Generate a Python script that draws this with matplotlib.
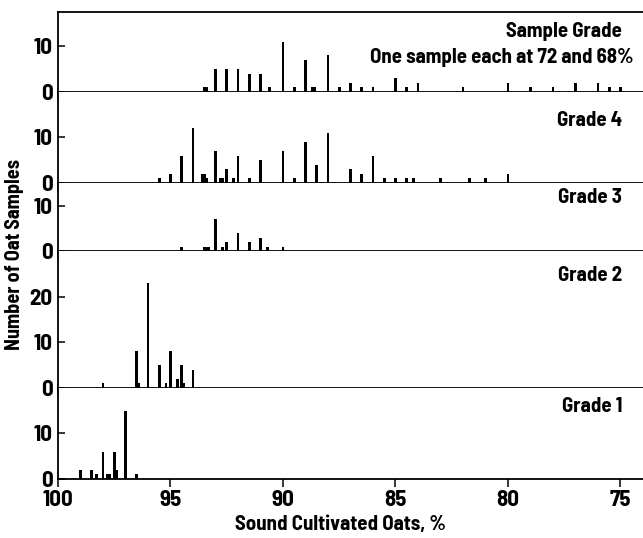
import matplotlib
matplotlib.use("Agg")
import matplotlib.pyplot as plt

plt.rcParams['font.family'] = ['Barlow Semi Condensed', 'DejaVu Sans']
plt.rcParams['font.weight'] = 'bold'

# percent sound cultivated oats -> number of samples, per grade
sample_pct = [93.5, 93.4, 93.0, 92.5, 92.0, 91.5, 91.0, 90.6, 90.0, 89.5, 89.0,
              88.7, 88.6, 88.0, 87.5, 87.0, 86.5, 86.0, 85.0, 84.5, 84.0, 82.0,
              80.0, 79.0, 78.0, 77.0, 76.0, 75.5, 75.0]
sample_n = [1, 1, 5, 5, 5, 4, 4, 1, 11, 1, 7,
            1, 1, 8, 1, 2, 1, 1, 3, 1, 2, 1,
            2, 1, 1, 2, 2, 1, 1]

g4_pct = [95.5, 95.0, 94.5, 94.0, 93.6, 93.5, 93.4, 93.0, 92.8, 92.7, 92.5,
          92.2, 92.0, 91.5, 91.0, 90.0, 89.5, 89.0, 88.5, 88.0, 87.0, 86.5,
          86.0, 85.5, 85.0, 84.5, 84.2, 83.0, 81.7, 81.0, 80.0]
g4_n = [1, 2, 6, 12, 2, 2, 1, 7, 1, 1, 3,
        1, 6, 1, 5, 7, 1, 9, 4, 11, 3, 2,
        6, 1, 1, 1, 1, 1, 1, 1, 2]

g3_pct = [94.5, 93.5, 93.4, 93.3, 93.0, 92.7, 92.5, 92.0, 91.5, 91.0, 90.7, 90.0]
g3_n = [1, 1, 1, 1, 7, 1, 2, 4, 2, 3, 1, 1]

g2_pct = [98.0, 96.5, 96.4, 96.0, 95.5, 95.2, 95.0, 94.7, 94.5, 94.4, 94.0]
g2_n = [1, 8, 1, 23, 5, 1, 8, 2, 5, 1, 4]

g1_pct = [99.0, 98.5, 98.3, 98.0, 97.8, 97.7, 97.5, 97.4, 97.0, 96.5]
g1_n = [2, 2, 1, 6, 1, 1, 6, 2, 15, 1]

panels = [
    (sample_pct, sample_n, 17.5, [0, 10], "Sample Grade"),
    (g4_pct, g4_n, 20, [0, 10], "Grade 4"),
    (g3_pct, g3_n, 15, [0, 10], "Grade 3"),
    (g2_pct, g2_n, 30, [0, 10, 20], "Grade 2"),
    (g1_pct, g1_n, 20, [0, 10], "Grade 1"),
]
label_y = [0.76, 0.68, 0.78, 0.825, 0.79]

fig, axes = plt.subplots(5, 1, figsize=(6.43, 5.38), dpi=100, sharex=True,
                         gridspec_kw=dict(height_ratios=[p[2] for p in panels], hspace=0))
fig.subplots_adjust(left=0.0902, right=1.0, top=0.9777, bottom=0.1097)

for i, (ax, (pct, n, top, yt, name)) in enumerate(zip(axes, panels)):
    ax.bar(pct, n, width=0.12, color='black', linewidth=0)
    ax.set_ylim(0, top)
    ax.set_xlim(100, 74)
    ax.set_yticks(yt)
    ax.set_xticks([100, 95, 90, 85, 80, 75])
    ax.spines['right'].set_visible(False)
    if i > 0:
        ax.spines['top'].set_visible(False)
    for s in ['left', 'bottom', 'top']:
        ax.spines[s].set_linewidth(1.3)
    # y ticks point into the panel, x ticks hang below each baseline
    ax.tick_params(axis='y', direction='in', length=5, width=1.1,
                   labelsize=16.5, pad=4)
    ax.tick_params(axis='x', direction='out', length=6, width=1.1,
                   labelsize=16.5, pad=2)
    ax.text(0.964, label_y[i], name, transform=ax.transAxes,
            ha='right', va='center', fontsize=15)
    if i == 0:
        ax.text(0.983, 0.425, "One sample each at 72 and 68%", transform=ax.transAxes,
                ha='right', va='center', fontsize=15)

fig.text(340 / 643, 1 - 524 / 538, "Sound Cultivated Oats, %", ha='center', va='center',
         fontsize=15)
fig.text(15 / 643, 1 - 254 / 538, "Number of Oat Samples", ha='center', va='center',
         rotation=90, fontsize=14.5)

fig.savefig("out.png", dpi=100)
